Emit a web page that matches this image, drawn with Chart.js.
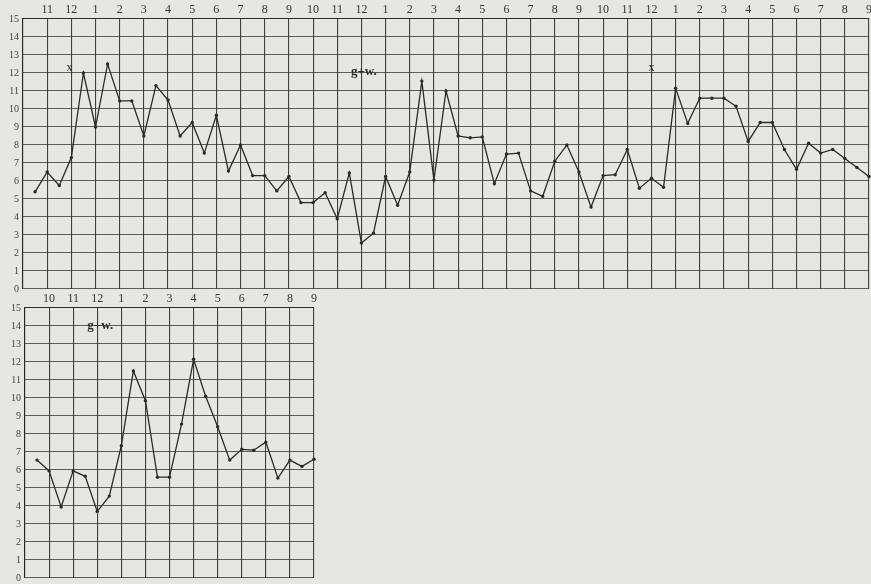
<!DOCTYPE html>
<html><head><meta charset="utf-8">
<script src="https://cdn.jsdelivr.net/npm/chart.js@4"></script>
<style>
html,body{margin:0;padding:0;background:#e7e7e2;width:871px;height:584px;overflow:hidden;}
canvas{position:absolute;left:0;}
#topChart{top:0;}
#botChart{top:290px;}
</style></head><body>
<canvas id="topChart" width="874" height="299"></canvas>
<canvas id="botChart" width="319" height="298"></canvas>
<script>
// ---- tick labels (full hours; half-hour slots get empty labels) ----
const topHourLabels = ['', '11','12','1','2','3','4','5','6','7','8','9','10','11','12',
  '1','2','3','4','5','6','7','8','9','10','11','12','1','2','3','4','5','6','7','8','9'];
const botHourLabels = ['', '10','11','12','1','2','3','4','5','6','7','8','9'];
const yTickLabels = ['0','1','2','3','4','5','6','7','8','9','10','11','12','13','14','15'];

// ---- series values (one reading per half hour) ----
const topValues = [null,
  5.4, 6.5, 5.75, 7.3, 12.0, 9.0, 12.5, 10.45, 10.45, 8.5,
  11.3, 10.5, 8.5, 9.25, 7.55, 9.65, 6.55, 8.0, 6.3, 6.3,
  5.45, 6.25, 4.8, 4.8, 5.35, 3.9, 6.45, 2.55, 3.1, 6.25,
  4.65, 6.5, 11.55, 6.05, 11.0, 8.5, 8.4, 8.45, 5.85, 7.5,
  7.55, 5.45, 5.15, 7.1, 8.0, 6.5, 4.55, 6.3, 6.35, 7.75,
  5.6, 6.15, 5.65, 11.15, 9.2, 10.6, 10.6, 10.6, 10.15, 8.2,
  9.25, 9.25, 7.75, 6.65, 8.1, 7.55, 7.75, 7.25, 6.75, 6.25];
const botValues = [null,
  6.55, 5.95, 3.95, 5.95, 5.65, 3.7, 4.55, 7.35, 11.5, 9.85,
  5.6, 5.6, 8.55, 12.15, 10.1, 8.4, 6.55, 7.15, 7.1, 7.55,
  5.55, 6.55, 6.2, 6.6];

// ---- annotations (category index, value, text) ----
const topNotes = [
  {i: 3.85, v: 12.3, t: 'x', size: 12},
  {i: 28.2, v: 12.05, t: 'g+w.', size: 13},
  {i: 52.0, v: 12.3, t: 'x', size: 12}
];
const botNotes = [
  {i: 6.25, v: 14.0, t: 'g+w.', size: 13}
];

function halfHourCats(hourLabels) {
  const out = [];
  hourLabels.forEach((h, k) => { out.push(h); if (k < hourLabels.length - 1) out.push(''); });
  return out;
}

const notesPlugin = {
  id: 'notes',
  afterDatasetsDraw(chart, args, opts) {
    const ctx = chart.ctx, xs = chart.scales.x, ys = chart.scales.y;
    ctx.save();
    ctx.fillStyle = '#2b2b2b';
    ctx.textAlign = 'center';
    ctx.textBaseline = 'middle';
    (opts.items || []).forEach(n => {
      ctx.font = (n.t === 'x' ? '' : 'bold ') + n.size + 'px "Liberation Serif", "DejaVu Serif", serif';
      ctx.fillText(n.t, xs.getPixelForValue(n.i), ys.getPixelForValue(n.v));
    });
    ctx.restore();
  }
};

function build(id, hourLabels, values, notes, yWidth, xHeight, padRight, padBottom) {
  const cats = halfHourCats(hourLabels);
  return new Chart(document.getElementById(id), {
    type: 'line',
    data: {
      labels: cats,
      datasets: [{
        data: values,
        borderColor: '#2a2a2a',
        borderWidth: 1.3,
        pointRadius: 1.7,
        pointBackgroundColor: '#2a2a2a',
        pointBorderWidth: 0,
        tension: 0,
        spanGaps: false
      }]
    },
    options: {
      responsive: false,
      animation: false,
      devicePixelRatio: 1,
      layout: {padding: {left: 0, right: padRight, top: 0, bottom: padBottom}},
      plugins: {legend: {display: false}, tooltip: {enabled: false}, notes: {items: notes}},
      scales: {
        x: {
          type: 'category',
          position: 'top',
          offset: false,
          afterFit(s) { s.height = xHeight; },
          grid: {
            drawTicks: false,
            color: c => (c.index % 2 === 0 ? 'rgba(35,35,35,0.85)' : 'rgba(0,0,0,0)'),
            lineWidth: 1.1
          },
          border: {display: true, color: 'rgba(35,35,35,0.85)', width: 1.1},
          ticks: {
            autoSkip: false, maxRotation: 0, minRotation: 0, padding: 2,
            color: '#333',
            font: {family: '"Liberation Serif", "DejaVu Serif", serif', size: 12},
            callback: (v, i) => cats[i]
          }
        },
        y: {
          min: 0, max: 15,
          afterFit(s) { s.width = yWidth; },
          grid: {drawTicks: false, color: 'rgba(45,45,45,0.75)', lineWidth: 1.1},
          border: {display: true, color: 'rgba(35,35,35,0.85)', width: 1.1},
          ticks: {
            stepSize: 1, padding: 4, color: '#444',
            font: {family: '"Liberation Serif", "DejaVu Serif", serif', size: 10},
            callback: v => yTickLabels[v]
          }
        }
      }
    },
    plugins: [notesPlugin]
  });
}

build('topChart', topHourLabels, topValues, topNotes, 23, 19, 3, 2);
build('botChart', botHourLabels, botValues, botNotes, 25, 18, 5, 0);
</script>
</body></html>
